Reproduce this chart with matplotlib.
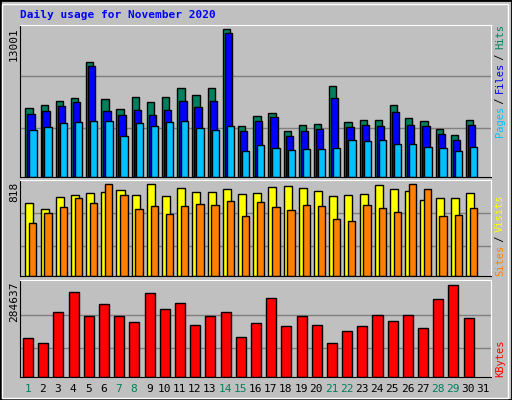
import matplotlib
matplotlib.use("Agg")
import matplotlib.pyplot as plt
from matplotlib.patches import Rectangle
import numpy as np

days = list(range(1, 32))
weekend = [1, 7, 8, 14, 15, 21, 22, 28, 29]
hits = [6040, 6310, 6660, 6920, 10100, 6830, 5950, 7000, 6560, 7000, 7800, 7180, 7800, 13001,
        4500, 5380, 5650, 4060, 4590, 4680, 7970, 4850, 5030, 5030, 6350, 5210, 4940, 4240, 3710, 5030]
files = [5590, 5850, 6210, 6560, 9740, 5850, 5500, 5940, 5500, 5940, 6650, 6120, 6650, 12650,
         4060, 4940, 5290, 3620, 4060, 4240, 6970, 4410, 4590, 4500, 5710, 4590, 4500, 3790, 3270, 4590]
pages = [4180, 4440, 4790, 4880, 4970, 4970, 3620, 4790, 4530, 4850, 4940, 4320, 4150, 4500,
         2320, 2850, 2590, 2410, 2500, 2500, 2590, 3290, 3200, 3290, 2940, 2940, 2680, 2590, 2320, 2680]
visits = [651, 598, 705, 723, 741, 750, 767, 723, 818, 714, 785, 750, 750, 776,
          732, 741, 794, 803, 785, 758, 714, 723, 732, 809, 776, 758, 678, 696, 696, 741]
sites = [473, 562, 616, 696, 651, 818, 720, 595, 622, 553, 622, 640, 631, 667,
         533, 654, 616, 589, 631, 622, 506, 488, 631, 604, 568, 818, 773, 533, 541, 604]
kbytes = [122000, 106000, 203000, 263000, 191000, 226000, 191000, 172000, 260000, 212000,
          231000, 163000, 191000, 203000, 125000, 169000, 245000, 157000, 191000, 163000,
          106000, 144000, 157000, 194000, 175000, 194000, 153000, 242000, 284637, 184000]

BG = "#C0C0C0"
fig = plt.figure(figsize=(5.12, 4.0), dpi=100, facecolor=BG)
fig.patches.append(Rectangle((0, 0), 1, 1, transform=fig.transFigure, fill=False,
                             edgecolor="black", lw=2))
fig.patches.append(Rectangle((2/512, 2/400), 1-6/512, 1-6/400, transform=fig.transFigure, fill=False,
                             edgecolor="white", lw=1))

W, H = 512, 400
def ax_at(x0, y0, x1, y1):
    ax = fig.add_axes([x0/W, 1-y1/H, (x1-x0)/W, (y1-y0)/H])
    ax.set_facecolor(BG)
    ax.set_xlim(0.5, 31.5)
    ax.set_xticks([]); ax.set_yticks([])
    for s in ("top", "right"):
        ax.spines[s].set_color("white")
    for s in ("left", "bottom"):
        ax.spines[s].set_color("black")
    return ax

x = np.array(days[:30])
kw = dict(align="edge", edgecolor="black", linewidth=1)

ax1 = ax_at(20, 25, 491, 177)
ax1.set_ylim(0, 13001 * 455 / 442)
for g in (13001*148/442, 13001*301/442):
    ax1.axhline(g, color="#808080", lw=1, zorder=0)
ax1.bar(x - 0.15, hits, 0.48, color="#00805C", **kw)
ax1.bar(x - 0.02, files, 0.48, color="#0000FF", **kw)
ax1.bar(x + 0.11, pages, 0.48, color="#00C0FF", **kw)

ax2 = ax_at(20, 180, 491, 276)
ax2.set_ylim(0, 818 * 287 / 275)
for g in (818*89/275, 818*188/275):
    ax2.axhline(g, color="#808080", lw=1, zorder=0)
ax2.bar(x - 0.15, visits, 0.53, color="#FFFF00", **kw)
ax2.bar(x + 0.1, sites, 0.48, color="#FF8000", **kw)

ax3 = ax_at(20, 280, 491, 377)
ax3.set_ylim(0, 284637 * 289 / 273)
for g in (284637*87/273, 284637*186/273):
    ax3.axhline(g, color="#808080", lw=1, zorder=0)
ax3.bar(x - 0.3, kbytes, 0.66, color="#FF0000", **kw)

mono = dict(family="DejaVu Sans Mono", fontsize=8)
fig.text(20/W, 1-15/H, "Daily usage for November 2020", color="#0000FF",
         fontweight="bold", va="center", ha="left", **mono)
fig.text(14/W, 1-27/H, "13001", rotation=90, va="top", ha="center", **mono)
fig.text(14/W, 1-182/H, "818", rotation=90, va="top", ha="center", **mono)
fig.text(14/W, 1-282/H, "284637", rotation=90, va="top", ha="center", **mono)

STEP = 5.5
def right_label(parts, ybottom):
    y = ybottom
    for txt, col in parts:
        fig.text(500/W, y/H, txt, rotation=90, color=col, va="bottom", ha="center",
                 family="DejaVu Sans Mono", fontsize=7.5)
        y += len(txt) * STEP
right_label([("Pages", "#00C0FF"), (" / ", "#000000"), ("Files", "#0000FF"),
             (" / ", "#000000"), ("Hits", "#00805C")], 400-137)
right_label([("Sites", "#FF8000"), (" / ", "#000000"), ("Visits", "#FFFF00")], 400-276)
right_label([("KBytes", "#FF0000")], 400-377)

for d in days:
    xf = (20 + (d - 0.5) * 471/31) / W
    fig.text(xf, 1-389/H, str(d), color="#00805C" if d in weekend else "black",
             ha="center", va="center", **mono)

fig.savefig("out.png", dpi=100, facecolor=BG)
